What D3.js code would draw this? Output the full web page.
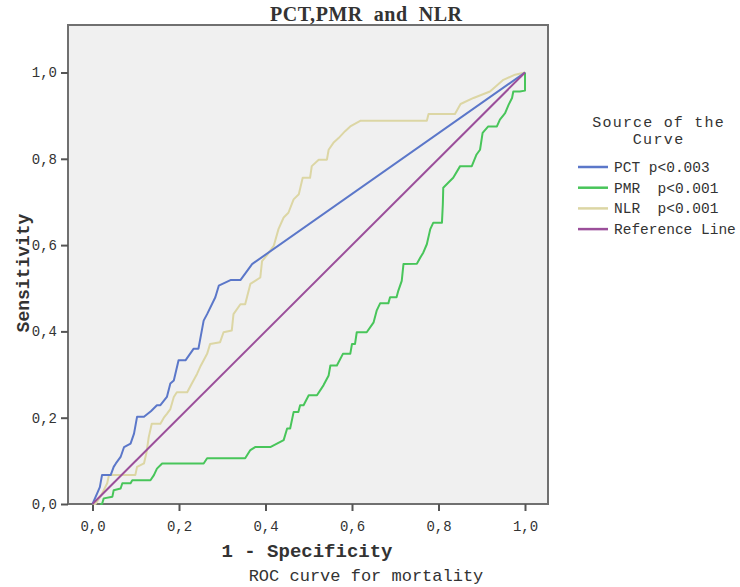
<!DOCTYPE html>
<html>
<head>
<meta charset="utf-8">
<script src="https://cdn.jsdelivr.net/npm/d3@7"></script>
<style>
  body { margin: 0; background: #fff; }
  text { font-family: "Liberation Mono", "DejaVu Sans Mono", monospace; fill: #333; }
</style>
</head>
<body>
<svg id="chart" width="740" height="587"></svg>
<script>
'use strict';

// ROC points: [1 - specificity, sensitivity]
var pctPoints = [[0,0],[0.011,0.025],[0.017,0.039],[0.022,0.067],[0.042,0.067],[0.049,0.086],
    [0.054,0.094],[0.065,0.109],[0.073,0.132],[0.088,0.14],[0.096,0.163],[0.103,0.202],
    [0.119,0.202],[0.135,0.215],[0.149,0.229],[0.157,0.229],[0.172,0.248],[0.18,0.279],
    [0.188,0.286],[0.199,0.333],[0.215,0.333],[0.234,0.36],[0.245,0.36],[0.257,0.425],
    [0.265,0.44],[0.284,0.479],[0.292,0.506],[0.319,0.519],[0.342,0.519],[0.369,0.556],[1,1]];

var pmrPoints = [[0.018,0],[0.022,0],[0.026,0.013],[0.046,0.017],[0.049,0.032],[0.065,0.036],
    [0.069,0.048],[0.088,0.048],[0.092,0.055],[0.134,0.055],[0.142,0.067],[0.149,0.082],
    [0.161,0.094],[0.257,0.094],[0.265,0.106],[0.353,0.106],[0.365,0.125],[0.376,0.132],
    [0.411,0.132],[0.442,0.148],[0.45,0.175],[0.457,0.175],[0.465,0.213],[0.476,0.213],
    [0.48,0.229],[0.488,0.229],[0.5,0.252],[0.519,0.252],[0.534,0.275],[0.546,0.298],
    [0.55,0.321],[0.565,0.321],[0.579,0.348],[0.596,0.348],[0.6,0.371],[0.607,0.371],
    [0.611,0.398],[0.634,0.398],[0.65,0.421],[0.657,0.448],[0.665,0.465],[0.684,0.465],
    [0.688,0.479],[0.703,0.479],[0.707,0.494],[0.715,0.517],[0.719,0.556],[0.75,0.557],
    [0.758,0.571],[0.765,0.583],[0.773,0.602],[0.781,0.637],[0.788,0.652],[0.808,0.652],
    [0.81,0.694],[0.811,0.733],[0.823,0.745],[0.834,0.756],[0.85,0.783],[0.877,0.783],
    [0.888,0.81],[0.896,0.821],[0.902,0.86],[0.915,0.875],[0.935,0.875],[0.942,0.891],
    [0.954,0.906],[0.962,0.925],[0.97,0.941],[0.973,0.956],[0.988,0.956],[1,0.958],[1,1]];

var nlrPoints = [[0,0],[0.007,0],[0.02,0.02],[0.034,0.048],[0.038,0.067],[0.099,0.067],
    [0.103,0.086],[0.119,0.094],[0.125,0.12],[0.13,0.155],[0.137,0.186],[0.157,0.186],
    [0.165,0.2],[0.172,0.209],[0.18,0.22],[0.188,0.248],[0.195,0.259],[0.219,0.259],
    [0.23,0.28],[0.242,0.302],[0.25,0.32],[0.265,0.348],[0.272,0.371],[0.295,0.375],
    [0.303,0.398],[0.322,0.402],[0.326,0.44],[0.342,0.463],[0.353,0.463],[0.365,0.51],
    [0.376,0.517],[0.388,0.525],[0.392,0.563],[0.402,0.575],[0.411,0.587],[0.419,0.598],
    [0.43,0.637],[0.442,0.664],[0.453,0.675],[0.465,0.706],[0.477,0.718],[0.486,0.756],
    [0.503,0.756],[0.507,0.783],[0.523,0.798],[0.542,0.798],[0.546,0.821],[0.557,0.837],
    [0.569,0.848],[0.584,0.864],[0.596,0.875],[0.619,0.888],[0.773,0.888],[0.777,0.904],
    [0.838,0.904],[0.851,0.927],[0.881,0.941],[0.919,0.956],[0.95,0.983],[0.977,0.995],[1,1]];

var refPoints = [[0,0],[1,1]];

var tickValues = [0, 0.2, 0.4, 0.6, 0.8, 1.0];
var legendTitle = ['Source of the', 'Curve'];
var legendLabels = ['PCT p<0.003', 'PMR  p<0.001', 'NLR  p<0.001', 'Reference Line'];
var legendColors = ['#5b77c9', '#48c55a', '#dcd6a4', '#9b4f9a'];

var svg = d3.select('#chart');

// plot frame
var frame = { left: 68, top: 25, right: 548, bottom: 504 };

var x = d3.scaleLinear().domain([0, 1]).range([92.5, 525]);
var y = d3.scaleLinear().domain([0, 1]).range([504, 72.5]);

svg.append('rect')
    .attr('x', frame.left)
    .attr('y', frame.top)
    .attr('width', frame.right - frame.left)
    .attr('height', frame.bottom - frame.top)
    .attr('fill', '#f0f0f0')
    .attr('stroke', '#707070')
    .attr('stroke-width', 2);

var fmt = function(d) { return d3.format('.1f')(d).replace('.', ','); };

var xAxis = svg.append('g')
    .attr('transform', 'translate(0,' + frame.bottom + ')')
    .call(d3.axisBottom(x).tickValues(tickValues).tickSize(7).tickPadding(10).tickFormat(fmt));

var yAxis = svg.append('g')
    .attr('transform', 'translate(' + frame.left + ',0)')
    .call(d3.axisLeft(y).tickValues(tickValues).tickSize(7).tickPadding(4).tickFormat(fmt));

[xAxis, yAxis].forEach(function(ax) {
    ax.select('.domain').remove();
    ax.selectAll('line').attr('stroke', '#555').attr('stroke-width', 2);
    ax.selectAll('text')
        .style('font-family', '"Liberation Mono", monospace')
        .style('font-size', '14px')
        .attr('fill', '#484848');
});

// curves
var line = d3.line()
    .x(function(d) { return x(d[0]); })
    .y(function(d) { return y(d[1]); });

var curves = [
    { pts: nlrPoints, color: legendColors[2] },
    { pts: pmrPoints, color: legendColors[1] },
    { pts: pctPoints, color: legendColors[0] },
    { pts: refPoints, color: legendColors[3] }
];

svg.append('g').selectAll('path')
    .data(curves)
    .enter()
    .append('path')
    .attr('d', function(d) { return line(d.pts); })
    .attr('fill', 'none')
    .attr('stroke', function(d) { return d.color; })
    .attr('stroke-width', 2)
    .attr('stroke-linejoin', 'round');

// title
svg.append('text')
    .attr('x', 366)
    .attr('y', 21)
    .attr('text-anchor', 'middle')
    .attr('textLength', 192)
    .attr('lengthAdjust', 'spacing')
    .style('font-family', '"Liberation Serif", serif')
    .style('font-weight', 'bold')
    .style('font-size', '20px')
    .style('white-space', 'pre')
    .attr('fill', '#222')
    .text('PCT,PMR  and  NLR');

// axis titles
svg.append('text')
    .attr('x', 307)
    .attr('y', 557)
    .attr('text-anchor', 'middle')
    .style('font-weight', 'bold')
    .style('font-size', '19px')
    .attr('fill', '#222')
    .text('1 - Specificity');

svg.append('text')
    .attr('transform', 'translate(29,273) rotate(-90)')
    .attr('text-anchor', 'middle')
    .style('font-weight', 'bold')
    .style('font-size', '18px')
    .attr('fill', '#222')
    .text('Sensitivity');

svg.append('text')
    .attr('x', 366)
    .attr('y', 581)
    .attr('text-anchor', 'middle')
    .style('font-size', '17px')
    .attr('fill', '#333')
    .text('ROC curve for mortality');

// legend
var legend = svg.append('g');

legend.selectAll('text.title')
    .data(legendTitle)
    .enter()
    .append('text')
    .attr('class', 'title')
    .attr('x', 658)
    .attr('y', function(d, i) { return 127 + i * 17; })
    .attr('text-anchor', 'middle')
    .attr('textLength', function(d) { return d.length * 10.1; })
    .attr('lengthAdjust', 'spacing')
    .style('font-size', '15px')
    .attr('fill', '#333')
    .text(function(d) { return d; });

var items = legend.selectAll('g.item')
    .data(legendLabels)
    .enter()
    .append('g')
    .attr('class', 'item')
    .attr('transform', function(d, i) { return 'translate(0,' + (167 + i * 20.7) + ')'; });

items.append('line')
    .attr('x1', 578)
    .attr('x2', 608)
    .attr('stroke', function(d, i) { return legendColors[i]; })
    .attr('stroke-width', 2.5);

items.append('text')
    .attr('x', 614)
    .attr('dy', '0.35em')
    .style('font-size', '14.5px')
    .style('white-space', 'pre')
    .attr('fill', '#333')
    .text(function(d) { return d; });
</script>
</body>
</html>
